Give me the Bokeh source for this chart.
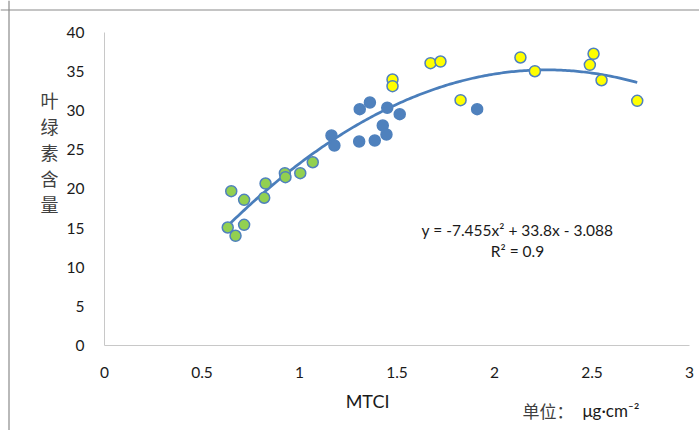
import numpy as np
from bokeh.plotting import figure
from bokeh.models import Label, FixedTicker, Span
from bokeh.embed import file_html
from bokeh.resources import INLINE

# ---- data ----
green_x = [0.632, 0.650, 0.672, 0.716, 0.716, 0.819, 0.826, 0.925, 0.928, 1.004, 1.068]
green_y = [15.08, 19.72, 14.02, 18.62, 15.42, 18.88, 20.70, 22.02, 21.51, 22.02, 23.42]

blue_x = [1.164, 1.179, 1.306, 1.309, 1.361, 1.386, 1.427, 1.446, 1.450, 1.514, 1.911]
blue_y = [26.84, 25.56, 26.07, 30.20, 31.05, 26.20, 28.12, 26.96, 30.38, 29.56, 30.20]

yellow_x = [1.477, 1.477, 1.672, 1.723, 1.826, 2.133, 2.207, 2.489, 2.508, 2.549, 2.732]
yellow_y = [33.99, 33.14, 36.08, 36.29, 31.35, 36.81, 35.05, 35.87, 37.28, 33.90, 31.27]

# trendline coefficients (shown on chart)
coef_a, coef_b, coef_c = -7.455, 33.8, -3.088
trend_start, trend_end = 0.632, 2.732

x_ticks = [0, 0.5, 1, 1.5, 2, 2.5, 3]
x_tick_labels = ["0", "0.5", "1", "1.5", "2", "2.5", "3"]
y_ticks = [0, 5, 10, 15, 20, 25, 30, 35, 40]

eq_text = "y = -7.455x\u00b2 + 33.8x - 3.088"
r2_text = "R\u00b2 = 0.9"
x_title = "MTCI"
y_title = "叶\n绿\n素\n含\n量"
unit_prefix = "单位："
unit_text = "\u03bcg\u00b7cm\u207b\u00b2"

FONT = "Lato"
CJK = "Noto Sans CJK SC"
EDGE = "#4f81bd"

# the frame spans the whole canvas; axes are pinned at 0
XS, XE = -0.5333, 3.0513
YS, YE = -10.863, 44.089

p = figure(width=699, height=430, x_range=(XS, XE), y_range=(YS, YE),
           output_backend="svg", toolbar_location=None,
           min_border=0, min_border_left=0, min_border_right=0,
           min_border_top=0, min_border_bottom=0)
p.outline_line_color = None
p.background_fill_color = "white"
p.border_fill_color = "white"
p.xgrid.visible = False
p.ygrid.visible = False

for ax in (p.xaxis[0], p.yaxis[0]):
    ax.axis_line_color = "#c8c8c8"
    ax.axis_line_width = 1
    ax.major_tick_line_color = None
    ax.minor_tick_line_color = None
    ax.major_tick_in = 0
    ax.major_tick_out = 0
    ax.major_label_text_font = FONT
    ax.major_label_text_font_size = "15.5px"
    ax.major_label_text_color = "#1a1a1a"

p.xaxis.fixed_location = 0
p.xaxis.bounds = (0, 3)
p.xaxis.ticker = FixedTicker(ticks=x_ticks)
p.xaxis.major_label_overrides = {t: l for t, l in zip(x_ticks, x_tick_labels)}
p.xaxis.major_label_standoff = 22
p.yaxis.fixed_location = 0
p.yaxis.bounds = (0, 40)
p.yaxis.ticker = FixedTicker(ticks=y_ticks)
p.yaxis.major_label_standoff = 20

# chart-area border (left and top edges)
p.add_layout(Span(location=XS + 8.5 / 195, dimension="height", line_color="#8a8a8a", line_width=1.2))
p.add_layout(Span(location=YE - 9.5 / 7.825, dimension="width", line_color="#8a8a8a", line_width=1.2))

# trendline
tx = np.linspace(trend_start, trend_end, 200)
ty = coef_a * tx ** 2 + coef_b * tx + coef_c
p.line(tx, ty, line_color="#4a7ebb", line_width=2.75)

# points
p.scatter(green_x, green_y, size=11, fill_color="#92d050", line_color=EDGE, line_width=1.5)
p.scatter(blue_x, blue_y, size=11, fill_color="#4f81bd", line_color=EDGE, line_width=1.5)
p.scatter(yellow_x, yellow_y, size=11, fill_color="#ffff00", line_color=EDGE, line_width=1.5)

# equation text
p.add_layout(Label(x=2.118, y=14.70, text=eq_text, text_align="center", text_baseline="middle",
                   text_font=FONT, text_font_size="15.5px", text_color="#1a1a1a"))
p.add_layout(Label(x=2.118, y=12.14, text=r2_text, text_align="center", text_baseline="middle",
                   text_font=FONT, text_font_size="15.5px", text_color="#1a1a1a"))

# axis titles
p.add_layout(Label(x=1.349, y=-7.03, text=x_title, text_align="center", text_baseline="middle",
                   text_font=FONT, text_font_size="18px", text_color="#1a1a1a"))
p.add_layout(Label(x=-0.282, y=24.73, text=y_title, text_align="center", text_baseline="middle",
                   text_font=CJK, text_font_size="18px", text_color="#404040",
                   text_line_height=1.0))
p.add_layout(Label(x=2.144, y=-8.31, text=unit_prefix, text_align="left", text_baseline="middle",
                   text_font=CJK, text_font_size="17px", text_color="#404040"))
p.add_layout(Label(x=2.451, y=-8.31, text=unit_text, text_align="left", text_baseline="middle",
                   text_font=FONT, text_font_size="17px", text_color="#1a1a1a"))

open("out.html", "w").write(file_html(p, INLINE))
